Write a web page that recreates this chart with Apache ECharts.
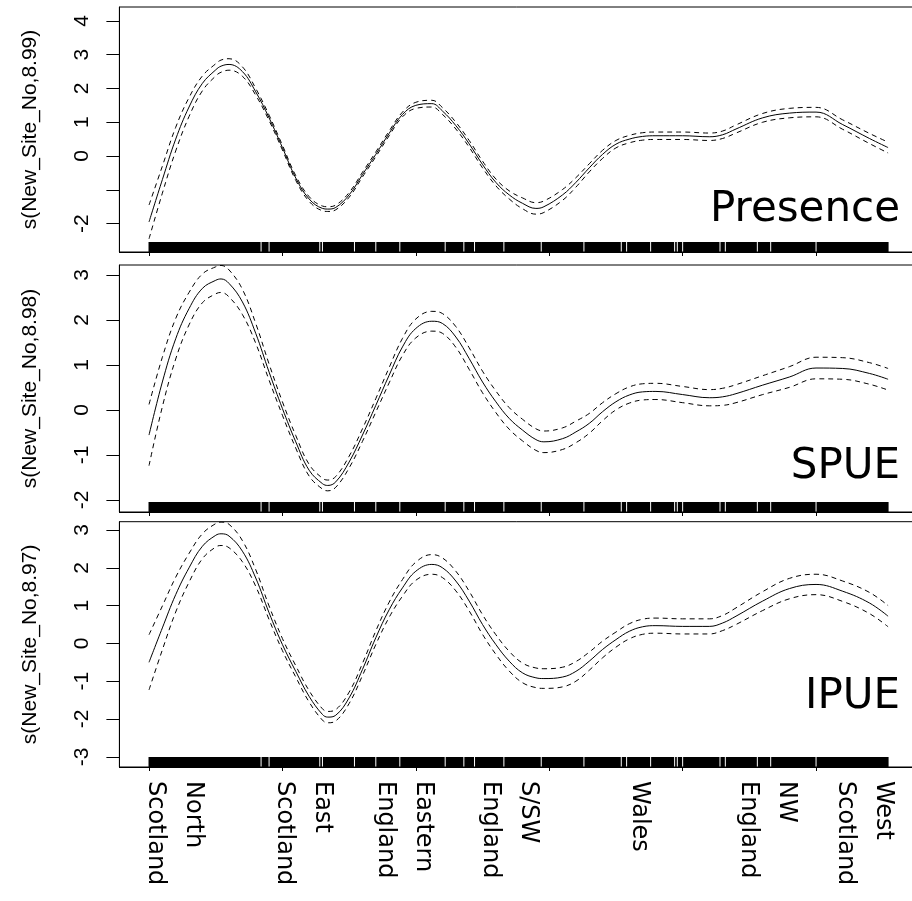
<!DOCTYPE html>
<html>
<head>
<meta charset="utf-8">
<script src="https://cdn.jsdelivr.net/npm/echarts@6/dist/echarts.min.js"></script>
<style>
html, body { margin: 0; padding: 0; background: #fff; }
#main { width: 912px; height: 901px; }
</style>
</head>
<body>
<div id="main"></div>
<script>
// site number where the smooths were read
var siteNo = [0, 5, 10, 15, 20, 25, 27, 30, 35, 40, 45, 50, 55, 60, 65, 67, 70, 75, 80, 85, 90, 95,
	100, 106, 110, 115, 120, 125, 130, 135, 140, 145, 148, 155, 160, 165, 170, 175, 180, 185, 190,
	200, 210, 215, 220, 230, 240, 250, 260, 270, 277];

// Presence smooth and half width of the dashed band
var presFit = [-1.95, -0.7, 0.5, 1.45, 2.15, 2.55, 2.66, 2.71, 2.5, 1.9, 1.13, 0.25, -0.65, -1.27, -1.55, -1.57, -1.52, -1.15, -0.55, 0.05, 0.67, 1.23,
	1.5, 1.55, 1.33, 0.9, 0.36, -0.25, -0.78, -1.15, -1.4, -1.55, -1.5, -1.15, -0.78, -0.35, 0.05, 0.35, 0.5, 0.58, 0.6,
	0.6, 0.57, 0.63, 0.8, 1.13, 1.27, 1.3, 0.93, 0.52, 0.25];
var presBand = [0.5, 0.4, 0.35, 0.28, 0.22, 0.18, 0.18, 0.17, 0.14, 0.1, 0.08, 0.07, 0.07, 0.07, 0.07, 0.07, 0.07, 0.07, 0.07, 0.07, 0.07, 0.07,
	0.09, 0.1, 0.1, 0.1, 0.1, 0.1, 0.1, 0.12, 0.16, 0.17, 0.17, 0.16, 0.14, 0.12, 0.12, 0.11, 0.11, 0.11, 0.11,
	0.11, 0.11, 0.11, 0.12, 0.13, 0.14, 0.14, 0.14, 0.15, 0.16];

// SPUE
var spueFit = [-0.56, 0.62, 1.58, 2.25, 2.7, 2.88, 2.91, 2.81, 2.4, 1.7, 0.84, 0.03, -0.71, -1.34, -1.64, -1.68, -1.6, -1.16, -0.56, 0.1, 0.77, 1.4,
	1.81, 1.97, 1.92, 1.62, 1.14, 0.62, 0.18, -0.19, -0.45, -0.66, -0.71, -0.64, -0.49, -0.3, -0.04, 0.18, 0.33, 0.4, 0.41,
	0.34, 0.27, 0.29, 0.36, 0.55, 0.73, 0.93, 0.92, 0.81, 0.68];
var spueBand = [0.68, 0.55, 0.45, 0.36, 0.32, 0.3, 0.3, 0.3, 0.28, 0.22, 0.18, 0.15, 0.14, 0.13, 0.12, 0.12, 0.12, 0.13, 0.14, 0.15, 0.17, 0.19,
	0.21, 0.22, 0.22, 0.23, 0.24, 0.24, 0.24, 0.24, 0.24, 0.24, 0.24, 0.24, 0.24, 0.22, 0.2, 0.18, 0.18, 0.18, 0.18,
	0.18, 0.18, 0.19, 0.2, 0.21, 0.23, 0.24, 0.24, 0.24, 0.24];

// IPUE
var ipueFit = [-0.5, 0.41, 1.29, 2.0, 2.57, 2.86, 2.9, 2.84, 2.44, 1.73, 0.81, -0.03, -0.74, -1.4, -1.88, -1.95, -1.9, -1.44, -0.69, 0.15, 0.89, 1.47,
	1.91, 2.09, 2.0, 1.65, 1.12, 0.5, -0.03, -0.47, -0.78, -0.91, -0.93, -0.89, -0.74, -0.47, -0.16, 0.1, 0.32, 0.44, 0.47,
	0.45, 0.45, 0.54, 0.72, 1.12, 1.45, 1.56, 1.38, 1.07, 0.72];
var ipueBand = [0.73, 0.58, 0.46, 0.38, 0.33, 0.31, 0.31, 0.31, 0.28, 0.22, 0.18, 0.16, 0.15, 0.15, 0.15, 0.15, 0.15, 0.15, 0.16, 0.18, 0.2, 0.22,
	0.24, 0.26, 0.26, 0.26, 0.26, 0.26, 0.26, 0.26, 0.26, 0.26, 0.26, 0.26, 0.26, 0.24, 0.22, 0.2, 0.2, 0.2, 0.2,
	0.2, 0.2, 0.2, 0.22, 0.25, 0.27, 0.27, 0.27, 0.28, 0.28];

// rug: observed site range and the site numbers with no records
var rugRange = [0, 277];
var rugGaps = [42, 45, 64, 65, 77, 85, 94, 111, 118, 122, 133, 147, 163, 177, 179, 188, 197, 198, 200, 214, 216, 228, 233, 250];

// x ticks and region labels
var xTicks = [0, 50, 100, 150, 200, 250];
var regionPos = [9.6, 57.8, 95.7, 135, 183.6, 231.7, 268.1];
var regionNames = ['North\nScotland', 'East\nScotland', 'Eastern\nEngland', 'S/SW\nEngland', 'Wales', 'NW\nEngland', 'West\nScotland'];

var panelNames = ['Presence', 'SPUE', 'IPUE'];
var yNames = ['s(New_Site_No,8.99)', 's(New_Site_No,8.98)', 's(New_Site_No,8.97)'];
var yTicks = [[-2, -1, 0, 1, 2, 3, 4], [-2, -1, 0, 1, 2, 3], [-3, -2, -1, 0, 1, 2, 3]];
var yLabels = [[-2, 0, 1, 2, 3, 4], [-2, -1, 0, 1, 2, 3], [-3, -2, -1, 0, 1, 2, 3]];
var yRange = [[-2.84, 4.41], [-2.27, 3.22], [-3.27, 3.22]];

var fits = [presFit, spueFit, ipueFit];
var bands = [presBand, spueBand, ipueBand];

var gridTop = [7, 265, 521.7];
var gridHeight = [245, 247, 245.3];
var labelY = [210, 467, 697];

var myChart = echarts.init(document.getElementById('main'));

function pairs(fit, band, sign) {
	return siteNo.map(function (x, i) {
		return [x, fit[i] + sign * band[i]];
	});
}

function lineSeries(k, data, dashed) {
	return {
		type: 'line',
		xAxisIndex: k,
		yAxisIndex: k,
		data: data,
		smooth: 0.4,
		symbol: 'none',
		silent: true,
		lineStyle: { color: '#000', width: 1, type: dashed ? [5, 4] : 'solid' },
		z: 3
	};
}

function rugSeries(k) {
	return [{
		type: 'custom',
		xAxisIndex: k,
		yAxisIndex: k,
		silent: true,
		data: [[rugRange[0], rugRange[1]]],
		renderItem: function (params, api) {
			var cs = params.coordSys;
			var x0 = api.coord([api.value(0), 0])[0];
			var x1 = api.coord([api.value(1), 0])[0];
			var bottom = cs.y + cs.height;
			return { type: 'rect', shape: { x: x0 - 0.5, y: bottom - 10, width: x1 - x0 + 1, height: 10 }, style: { fill: '#000' } };
		},
		z: 4
	}, {
		type: 'custom',
		xAxisIndex: k,
		yAxisIndex: k,
		silent: true,
		data: rugGaps.map(function (g) { return [g, 0]; }),
		renderItem: function (params, api) {
			var cs = params.coordSys;
			var x = api.coord([api.value(0), 0])[0];
			var bottom = cs.y + cs.height;
			return { type: 'rect', shape: { x: x - 0.5, y: bottom - 10, width: 1, height: 9.5 }, style: { fill: '#fff' } };
		},
		z: 5
	}];
}

var grids = [], xAxes = [], yAxes = [], series = [], texts = [];
for (var k = 0; k < 3; k++) {
	grids.push({
		left: 119.4, top: gridTop[k], width: 798.3, height: gridHeight[k],
		show: true, borderColor: '#000', borderWidth: 1, outerBoundsMode: 'none'
	});
	var isLast = k === 2;
	xAxes.push({
		type: 'value',
		gridIndex: k,
		min: -11.1,
		max: 288.1,
		axisLine: { show: true, onZero: false, lineStyle: { color: '#000', width: 1 } },
		axisTick: { show: true, length: 4, customValues: xTicks, lineStyle: { color: '#000' } },
		splitLine: { show: false },
		axisLabel: {
			show: isLast,
			customValues: regionPos,
			rotate: -90,
			margin: 14,
			color: '#000',
			fontFamily: 'DejaVu Sans',
			fontSize: 24,
			lineHeight: 38,
			formatter: function (v) {
				var best = 0;
				for (var i = 1; i < regionPos.length; i++) {
					if (Math.abs(regionPos[i] - v) < Math.abs(regionPos[best] - v)) best = i;
				}
				return regionNames[best];
			}
		}
	});
	yAxes.push({
		type: 'value',
		gridIndex: k,
		min: yRange[k][0],
		max: yRange[k][1],
		name: yNames[k],
		nameLocation: 'middle',
		nameRotate: 90,
		nameGap: 79,
		nameTextStyle: { color: '#000', fontFamily: 'Liberation Sans', fontSize: 21 },
		axisLine: { show: true, onZero: false, lineStyle: { color: '#000', width: 1 } },
		axisTick: { show: true, length: 13, customValues: yTicks[k], lineStyle: { color: '#000' } },
		axisLabel: {
			customValues: yLabels[k],
			rotate: 90,
			margin: 27,
			color: '#000',
			fontFamily: 'Liberation Sans',
			fontSize: 21
		},
		splitLine: { show: false }
	});
	series.push(lineSeries(k, pairs(fits[k], bands[k], 0), false));
	series.push(lineSeries(k, pairs(fits[k], bands[k], 1), true));
	series.push(lineSeries(k, pairs(fits[k], bands[k], -1), true));
	series = series.concat(rugSeries(k));
	texts.push({
		type: 'text',
		x: 900,
		y: labelY[k],
		z: 10,
		style: {
			text: panelNames[k],
			fill: '#000',
			fontFamily: 'DejaVu Sans',
			fontSize: 42,
			align: 'right',
			verticalAlign: 'middle'
		}
	});
}

var option = {
	backgroundColor: '#fff',
	animation: false,
	grid: grids,
	xAxis: xAxes,
	yAxis: yAxes,
	series: series,
	graphic: texts
};
myChart.setOption(option);
</script>
</body>
</html>
